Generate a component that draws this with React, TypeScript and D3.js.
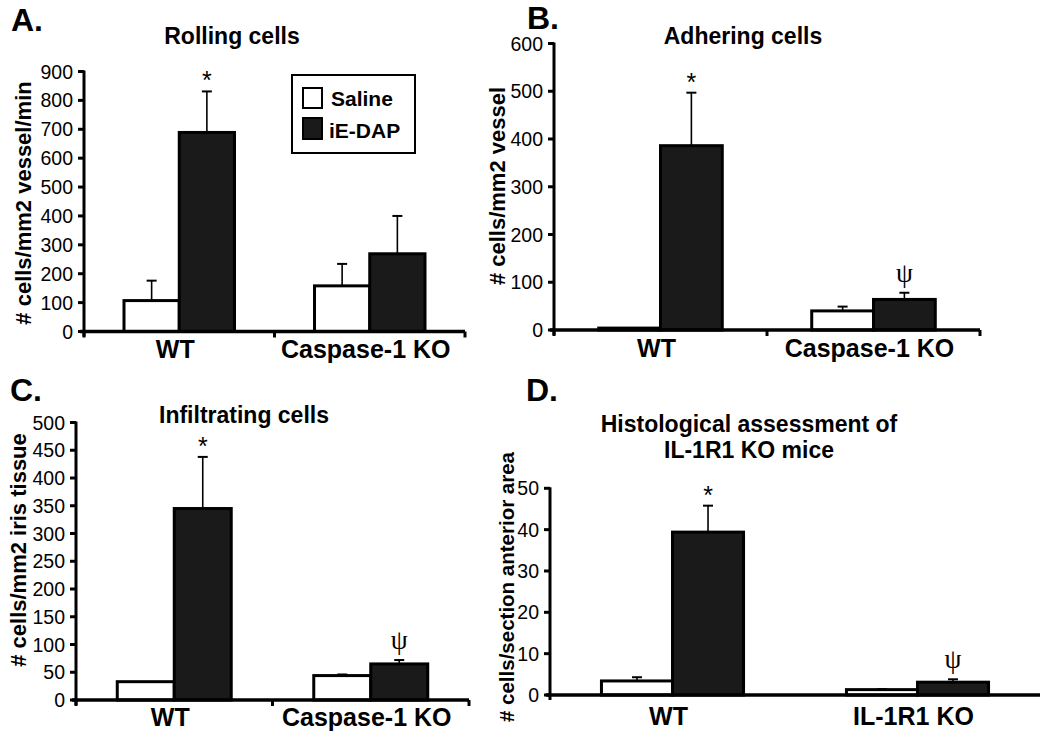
import React from "react";
import * as d3 from "d3";

// ---------- Data ----------
const seriesNames = ["Saline", "iE-DAP"];

const groupsCaspase = ["WT", "Caspase-1 KO"];
const groupsIL = ["WT", "IL-1R1 KO"];

const rollingSaline = [107, 158];
const rollingSalineErr = [69, 76];
const rollingDap = [689, 269];
const rollingDapErr = [142, 131];
const rollingTicks = [0, 100, 200, 300, 400, 500, 600, 700, 800, 900];

const adheringSaline = [4, 40];
const adheringSalineErr = [0, 9];
const adheringDap = [386, 64];
const adheringDapErr = [111, 14];
const adheringTicks = [0, 100, 200, 300, 400, 500, 600];

const infiltSaline = [33, 44];
const infiltSalineErr = [0, 2];
const infiltDap = [345, 65];
const infiltDapErr = [93, 7];
const infiltTicks = [0, 50, 100, 150, 200, 250, 300, 350, 400, 450, 500];

const histoSaline = [3.4, 1.3];
const histoSalineErr = [0.9, 0.1];
const histoDap = [39.4, 3.1];
const histoDapErr = [6.4, 0.7];
const histoTicks = [0, 10, 20, 30, 40, 50];

const marksA = ["*", ""];
const marksB = ["*", "ψ"];
const marksC = ["*", "ψ"];
const marksD = ["*", "ψ"];

const FONT = "'Liberation Sans', Arial, Helvetica, sans-serif";

type PanelProps = {
  letter: string;
  letterX: number;
  letterY: number;
  title: string[];
  titleX: number;
  titleY: number;
  yLabel: string;
  yLabelX: number;
  yLabelY: number;
  yLabelSize: number;
  groups: string[];
  saline: number[];
  salineErr: number[];
  dap: number[];
  dapErr: number[];
  ticks: number[];
  marks: string[];
  axisX: number;
  axisRight: number;
  yBottom: number;
  yTop: number;
  xLabelY: number;
  midTick: boolean;
};

function Panel(p: PanelProps) {
  const yMax = p.ticks[p.ticks.length - 1];
  const y = d3.scaleLinear().domain([0, yMax]).range([p.yBottom, p.yTop]);
  const xg = d3.scaleBand<string>().domain(p.groups).range([p.axisX, p.axisRight]).padding(0);
  const xs = d3
    .scaleBand<string>()
    .domain(seriesNames)
    .range([xg.bandwidth() * 0.21, xg.bandwidth() * 0.79])
    .padding(0);
  const series = [
    { name: seriesNames[0], vals: p.saline, errs: p.salineErr, fill: "#ffffff" },
    { name: seriesNames[1], vals: p.dap, errs: p.dapErr, fill: "#1a1a1a" },
  ];
  const bottomTicks = p.midTick
    ? [p.axisX, p.axisX + xg.bandwidth(), p.axisRight]
    : [];
  return (
    <g>
      <text x={p.letterX} y={p.letterY} fontFamily={FONT} fontWeight="bold" fontSize={32}>
        {p.letter}
      </text>
      {p.title.map((t, i) => (
        <text
          key={i}
          x={p.titleX}
          y={p.titleY + i * 26}
          textAnchor="middle"
          fontFamily={FONT}
          fontWeight="bold"
          fontSize={23}
        >
          {t}
        </text>
      ))}
      <text
        transform={`translate(${p.yLabelX},${p.yLabelY}) rotate(-90)`}
        textAnchor="middle"
        fontFamily={FONT}
        fontWeight="bold"
        fontSize={p.yLabelSize}
      >
        {p.yLabel}
      </text>
      {/* bars */}
      {series.map((s) =>
        p.groups.map((g, gi) => {
          const x0 = (xg(g) ?? 0) + (xs(s.name) ?? 0);
          const w = xs.bandwidth();
          const top = y(s.vals[gi]);
          return (
            <rect
              key={s.name + g}
              x={x0}
              y={top}
              width={w}
              height={p.yBottom - top}
              fill={s.fill}
              stroke="#000"
              strokeWidth={3}
            />
          );
        })
      )}
      {/* error bars */}
      {series.map((s) =>
        p.groups.map((g, gi) => {
          if (!s.errs[gi]) return null;
          const cx = (xg(g) ?? 0) + (xs(s.name) ?? 0) + xs.bandwidth() / 2;
          const top = y(s.vals[gi]);
          const et = y(s.vals[gi] + s.errs[gi]);
          return (
            <g key={"e" + s.name + g} stroke="#000" strokeWidth={1.6}>
              <line x1={cx} x2={cx} y1={top} y2={et} />
              <line x1={cx - 5} x2={cx + 5} y1={et} y2={et} strokeWidth={2} />
            </g>
          );
        })
      )}
      {/* significance marks */}
      {p.marks.map((m, gi) => {
        if (!m) return null;
        const cx = (xg(p.groups[gi]) ?? 0) + (xs(seriesNames[1]) ?? 0) + xs.bandwidth() / 2;
        const et = y(p.dap[gi] + p.dapErr[gi]);
        if (m === "*") {
          return (
            <text key={"m" + gi} x={cx} y={et - 2} textAnchor="middle" fontFamily={FONT} fontSize={25}>
              *
            </text>
          );
        }
        return (
          <text
            key={"m" + gi}
            x={cx}
            y={et - 11}
            textAnchor="middle"
            fontFamily="'Liberation Serif', 'DejaVu Serif', serif"
            fontSize={27}
          >
            {m}
          </text>
        );
      })}
      {/* y axis */}
      <line x1={p.axisX} x2={p.axisX} y1={p.yTop - 1} y2={p.yBottom + 5} stroke="#000" strokeWidth={3} />
      {p.ticks.map((t) => (
        <g key={"t" + t}>
          <line x1={p.axisX - 6} x2={p.axisX} y1={y(t)} y2={y(t)} stroke="#000" strokeWidth={3} />
          <text
            x={p.axisX - 11}
            y={y(t) + 7}
            textAnchor="end"
            fontFamily={FONT}
            fontSize={19.5}
          >
            {t}
          </text>
        </g>
      ))}
      {/* x axis */}
      <line x1={p.axisX - 4} x2={p.axisRight} y1={p.yBottom} y2={p.yBottom} stroke="#000" strokeWidth={3.5} />
      {bottomTicks.map((bx, i) => (
        <line key={"bt" + i} x1={bx} x2={bx} y1={p.yBottom} y2={p.yBottom + 6} stroke="#000" strokeWidth={3} />
      ))}
      {p.groups.map((g) => (
        <text
          key={"xl" + g}
          x={(xg(g) ?? 0) + xg.bandwidth() / 2 - 4}
          y={p.xLabelY}
          textAnchor="middle"
          fontFamily={FONT}
          fontWeight="bold"
          fontSize={25}
        >
          {g}
        </text>
      ))}
    </g>
  );
}

function Legend() {
  return (
    <g fontFamily={FONT} fontWeight="bold" fontSize={21}>
      <rect x={292} y={75} width={123} height={78} fill="#fff" stroke="#000" strokeWidth={2} />
      <rect x={303} y={88} width={19} height={20} fill="#fff" stroke="#000" strokeWidth={2} />
      <rect x={303} y={118} width={19} height={21} fill="#1a1a1a" stroke="#000" strokeWidth={2} />
      <text x={331} y={106}>{seriesNames[0]}</text>
      <text x={329} y={138}>{seriesNames[1]}</text>
    </g>
  );
}

export default function App() {
  return (
    <svg
      width={1050}
      height={737}
      viewBox="0 0 1050 737"
      style={{ position: "absolute", left: 0, top: 0, background: "#fff" }}
    >
      <rect x={0} y={0} width={1050} height={737} fill="#fff" />
      <Panel
        letter="A."
        letterX={11}
        letterY={31}
        title={["Rolling cells"]}
        titleX={232}
        titleY={44}
        yLabel="# cells/mm2 vessel/min"
        yLabelX={31}
        yLabelY={203}
        yLabelSize={22}
        groups={groupsCaspase}
        saline={rollingSaline}
        salineErr={rollingSalineErr}
        dap={rollingDap}
        dapErr={rollingDapErr}
        ticks={rollingTicks}
        marks={marksA}
        axisX={84}
        axisRight={465}
        yBottom={331.5}
        yTop={71.5}
        xLabelY={358}
        midTick={true}
      />
      <Legend />
      <Panel
        letter="B."
        letterX={527}
        letterY={29}
        title={["Adhering cells"]}
        titleX={743}
        titleY={44}
        yLabel="# cells/mm2 vessel"
        yLabelX={505}
        yLabelY={186}
        yLabelSize={22}
        groups={groupsCaspase}
        saline={adheringSaline}
        salineErr={adheringSalineErr}
        dap={adheringDap}
        dapErr={adheringDapErr}
        ticks={adheringTicks}
        marks={marksB}
        axisX={554}
        axisRight={980}
        yBottom={330}
        yTop={43.5}
        xLabelY={357}
        midTick={true}
      />
      <Panel
        letter="C."
        letterX={10}
        letterY={401}
        title={["Infiltrating cells"]}
        titleX={244}
        titleY={423}
        yLabel="# cells/mm2 iris tissue"
        yLabelX={26}
        yLabelY={550}
        yLabelSize={22}
        groups={groupsCaspase}
        saline={infiltSaline}
        salineErr={infiltSalineErr}
        dap={infiltDap}
        dapErr={infiltDapErr}
        ticks={infiltTicks}
        marks={marksC}
        axisX={76}
        axisRight={469}
        yBottom={700}
        yTop={422.5}
        xLabelY={726}
        midTick={true}
      />
      <Panel
        letter="D."
        letterX={526}
        letterY={401}
        title={["Histological assessment of", "IL-1R1 KO mice"]}
        titleX={749}
        titleY={432}
        yLabel="# cells/section anterior area"
        yLabelX={514}
        yLabelY={587}
        yLabelSize={20.5}
        groups={groupsIL}
        saline={histoSaline}
        salineErr={histoSalineErr}
        dap={histoDap}
        dapErr={histoDapErr}
        ticks={histoTicks}
        marks={marksD}
        axisX={550}
        axisRight={1040}
        yBottom={695}
        yTop={488.3}
        xLabelY={725}
        midTick={false}
      />
    </svg>
  );
}
